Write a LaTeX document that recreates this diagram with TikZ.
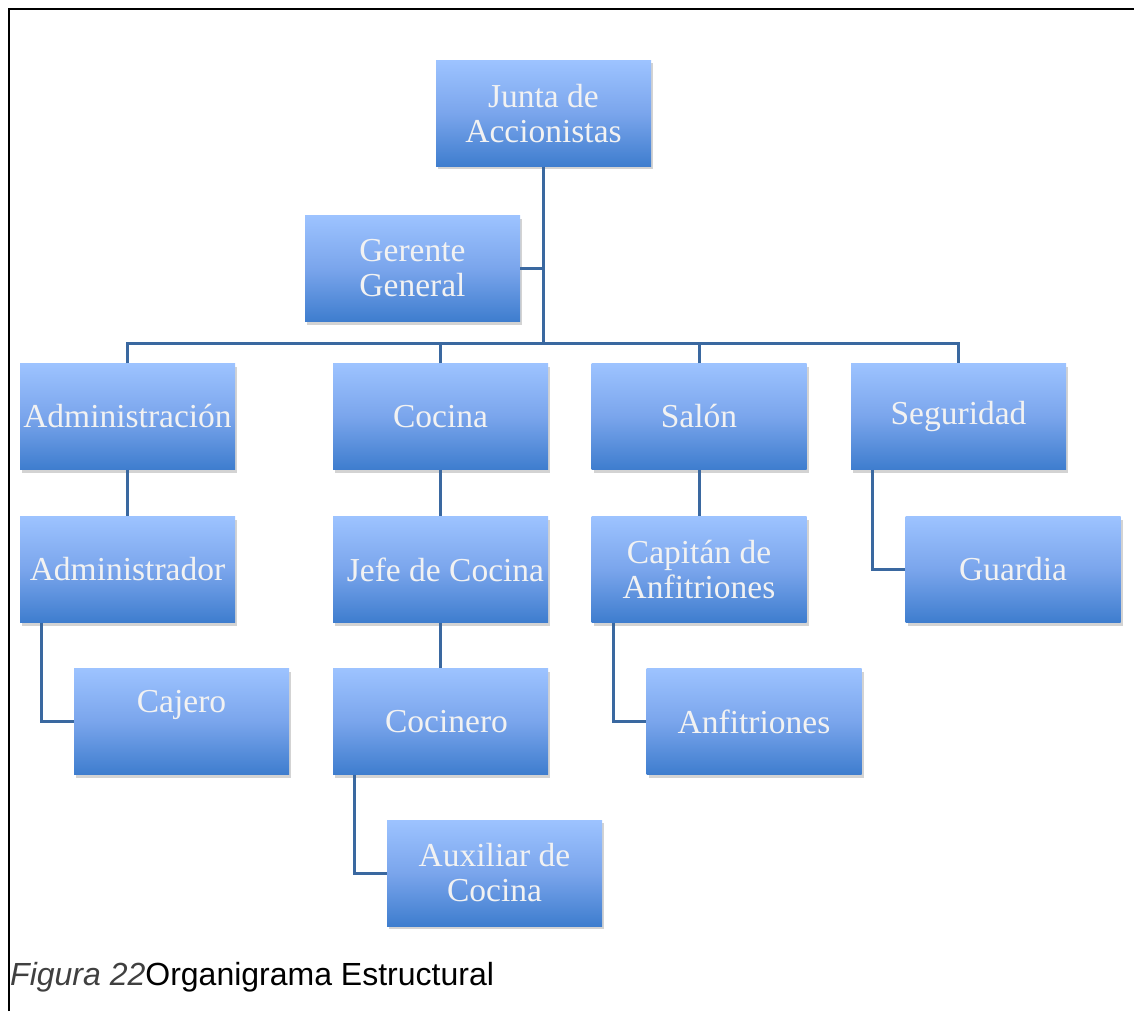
\documentclass[tikz,border=0pt]{standalone}
\usepackage{fontspec}
\setmainfont{Liberation Serif}
\newfontfamily\captionfont{Liberation Sans}
\usetikzlibrary{shadows,calc}
\definecolor{boxtop}{RGB}{157,195,255}
\definecolor{boxmid}{RGB}{122,165,236}
\definecolor{boxbottom}{RGB}{62,125,206}
\definecolor{linkblue}{RGB}{58,104,160}
\definecolor{boxtext}{RGB}{242,242,242}
\definecolor{figgray}{RGB}{64,64,64}

\begin{document}
\begin{tikzpicture}[
    x=1pt, y=-1pt,
    unit/.style={rectangle, minimum width=215pt, minimum height=106pt, inner sep=2pt,
                 top color=boxtop, bottom color=boxbottom, middle color=boxmid,
                 text=boxtext, align=center, font=\fontsize{33.5}{35}\selectfont,
                 drop shadow={opacity=0.35, shadow xshift=2pt, shadow yshift=-3pt}},
    link/.style={draw=linkblue, line width=3pt},
    frame/.style={draw=black, line width=2.2pt}
]
\useasboundingbox (0,0) rectangle (1134,1011);

% Frame
\draw[frame] (9,1011) -- (9,9) -- (1134,9);

% Boxes
\node[unit] (junta) at (543.5,113.5) {Junta de\\Accionistas};
\node[unit] (gerente) at (412.5,268.5) {Gerente\\General};

\node[unit] (admin) at (127.5,416.5) {Administración};
\node[unit] (cocina) at (440.5,416.5) {Cocina};
\node[unit] (salon) at (699,416.5) {Salón};
\node[unit] (seg) at (958.5,416.5) {Seguridad};

\node[unit] (admor) at (127.5,569.5) {Administrador};
\node[unit] (jefe) at (440.5,569.5) {\hspace*{10pt}Jefe de Cocina};
\node[unit] (capitan) at (699,569.5) {Capitán de\\Anfitriones};
\node[unit] (guardia) at (1013,569.5) {Guardia};

\node[unit] (cajero) at (181.5,721.5) {\raisebox{40pt}{Cajero}};
\node[unit] (cocinero) at (440.5,721.5) {\hspace*{12pt}Cocinero};
\node[unit] (anfitr) at (754,721.5) {Anfitriones};

\node[unit] (auxiliar) at (494.5,873) {Auxiliar de\\Cocina};

% Lines
\coordinate (bar) at (543.5,343);
\draw[link] (junta.south) -- (junta.south |- bar);
\draw[link] (gerente.east) -- (gerente.east -| junta.south);
\draw[link] (admin.north) -- (admin.north |- bar) -- (seg.north |- bar) -- (seg.north);
\draw[link] (cocina.north) -- (cocina.north |- bar);
\draw[link] (salon.north) -- (salon.north |- bar);

\draw[link] (admin.south) -- (admor.north);
\draw[link] (cocina.south) -- (jefe.north);
\draw[link] (salon.south) -- (capitan.north);
\draw[link] (jefe.south) -- (cocinero.north);

\draw[link] ($(seg.south west)+(22,0)$) |- (guardia.west);
\draw[link] ($(admor.south west)+(22,0)$) |- (cajero.west);
\draw[link] ($(capitan.south west)+(22,0)$) |- (anfitr.west);
\draw[link] ($(cocinero.south west)+(22,0)$) |- (auxiliar.west);

% Caption
\node[anchor=base west, inner sep=0pt, font=\captionfont\fontsize{32}{36}\selectfont] (caption) at (10,985)
    {\textcolor{figgray}{\itshape Figura 22}Organigrama Estructural};

\end{tikzpicture}
\end{document}
